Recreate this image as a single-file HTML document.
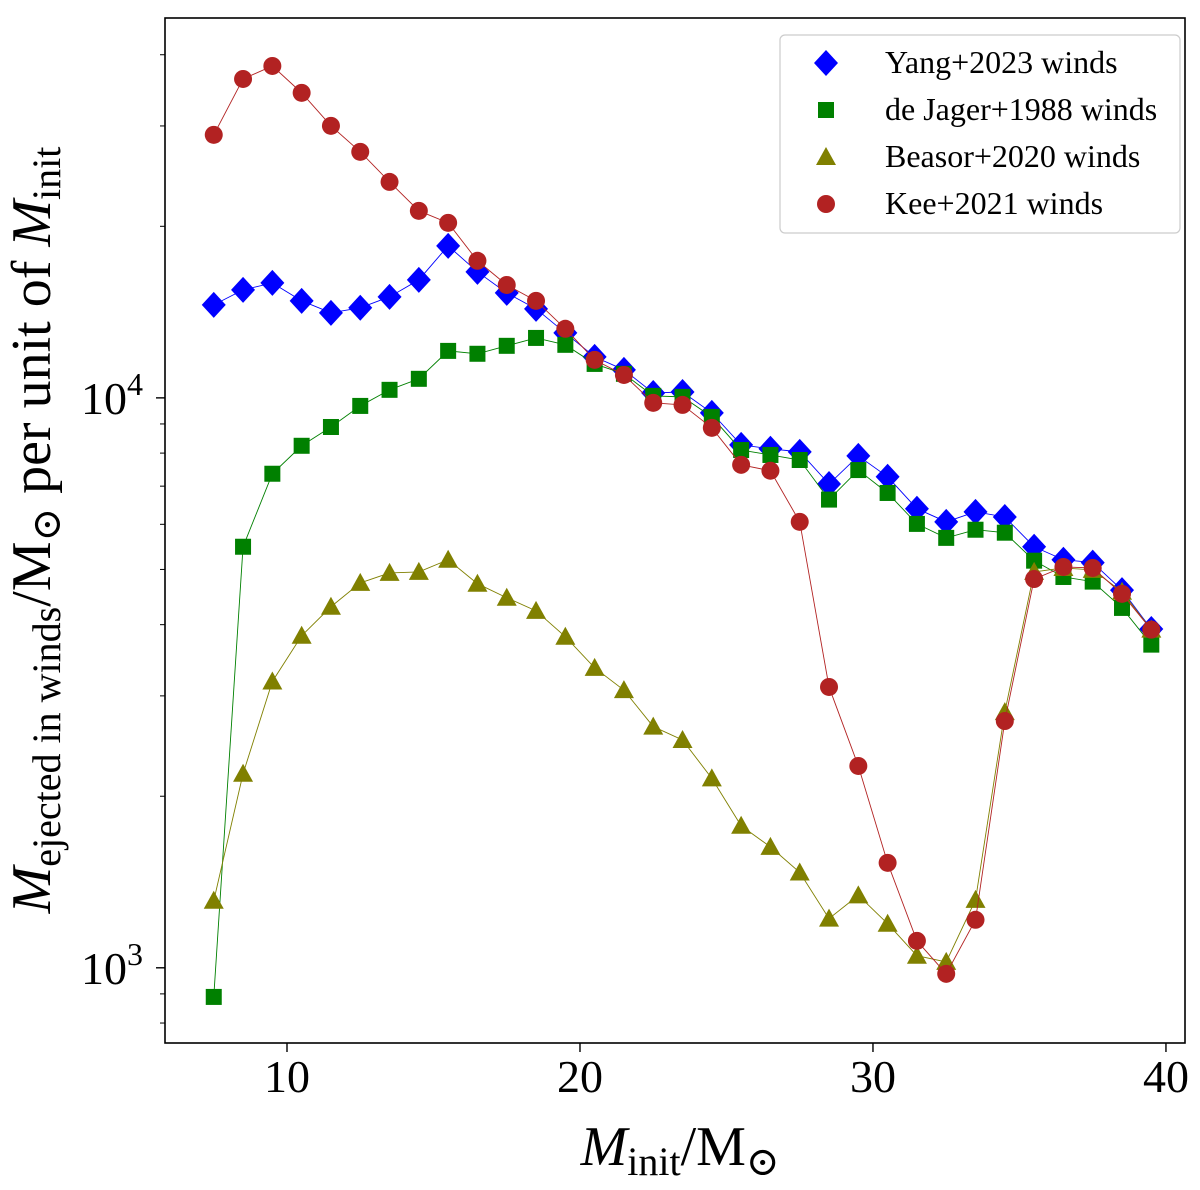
<!DOCTYPE html>
<html><head><meta charset="utf-8">
<style>
html,body{margin:0;padding:0;background:#fff;}
svg{display:block;font-family:"Liberation Serif","DejaVu Serif",serif;}
</style></head>
<body>
<svg id="chart" width="1200" height="1190" viewBox="0 0 1200 1190" xmlns="http://www.w3.org/2000/svg">
<g id="plot"></g>
</svg>
<script>
const masses = [7.5,8.5,9.5,10.5,11.5,12.5,13.5,14.5,15.5,16.5,17.5,18.5,19.5,20.5,21.5,22.5,23.5,24.5,25.5,26.5,27.5,28.5,29.5,30.5,31.5,32.5,33.5,34.5,35.5,36.5,37.5,38.5,39.5];
const yangWinds = [14560,15470,15910,14800,14100,14390,15040,16110,18480,16640,15280,14330,13000,11800,11200,10200,10240,9410,8270,8140,8040,7060,7910,7270,6390,6060,6310,6180,5480,5200,5140,4600,3930];
const deJagerWinds = [889,5480,7360,8240,8890,9680,10330,10800,12090,11950,12340,12740,12390,11470,11020,10080,10040,9260,8100,7940,7780,6630,7470,6810,6010,5680,5870,5800,5180,4850,4760,4280,3690];
const beasorWinds = [1311,2190,3180,3825,4300,4735,4930,4950,5200,4720,4460,4230,3810,3360,3070,2650,2510,2150,1775,1630,1470,1220,1340,1195,1050,1024,1316,2810,4950,5030,4990,4570,3920];
const keeWinds = [28940,36270,38230,34290,30010,27020,23930,21290,20280,17400,15780,14800,13220,11660,10970,9800,9720,8860,7630,7450,6060,3110,2260,1528,1115,976,1214,2710,4810,5050,5030,4530,3920];
const xTicks = [10,20,30,40];
const yMajor = [1000,10000];
const yMajorLabels = ["3","4"];
const yMinor = [800,900,2000,3000,4000,5000,6000,7000,8000,9000,20000,30000,40000];

const L=165,R=1185,T=18,B=1043;
const xmin=5.836,xmax=40.65,lymin=Math.log10(738),lymax=Math.log10(46400);
const X=v=>L+(v-xmin)/(xmax-xmin)*(R-L);
const Y=v=>B-(Math.log10(v)-lymin)/(lymax-lymin)*(B-T);
const NS="http://www.w3.org/2000/svg";
const svg=document.getElementById('chart');
const plot=document.getElementById('plot');
function mk(tag,attrs,parent){const e=document.createElementNS(NS,tag);for(const k in attrs)e.setAttribute(k,attrs[k]);(parent||svg).appendChild(e);return e;}

const frame=mk('rect',{x:L,y:T,width:R-L,height:B-T,fill:'none',stroke:'#000','stroke-width':1.6});



xTicks.forEach(t=>{
  const tk=mk('line',{x1:X(t),x2:X(t),y1:B,y2:B+9,stroke:'#000','stroke-width':1.4});
  
  
  const lb=mk('text',{x:X(t),y:1092,'font-size':46,'text-anchor':'middle'});
  lb.textContent=t;
  
  
});
yMajor.forEach((t,i)=>{
  const tk=mk('line',{x1:L-9,x2:L,y1:Y(t),y2:Y(t),stroke:'#000','stroke-width':1.4});
  
  
  const lb=mk('text',{x:L-22,y:Y(t)+16,'font-size':46,'text-anchor':'end'});
  
  
  lb.textContent='10';
  const sup=mk('tspan',{dy:-19,'font-size':32},lb);
  sup.textContent=yMajorLabels[i];
});
yMinor.forEach(t=>{
  const tk=mk('line',{x1:L-5,x2:L,y1:Y(t),y2:Y(t),stroke:'#000','stroke-width':1});
  
  
});

function marker(kind,cx,cy,color,g){
  if(kind==='d') return mk('polygon',{points:`${cx},${cy-13} ${cx+12},${cy} ${cx},${cy+13} ${cx-12},${cy}`,fill:color},g);
  if(kind==='s') return mk('rect',{x:cx-8,y:cy-8,width:16,height:16,fill:color},g);
  if(kind==='t') return mk('polygon',{points:`${cx},${cy-10} ${cx+10},${cy+8} ${cx-10},${cy+8}`,fill:color},g);
  return mk('circle',{cx:cx,cy:cy,r:9,fill:color},g);
}
const series=[
  {name:'yang',vals:yangWinds,color:'#0000ff',kind:'d',label:'Yang+2023 winds'},
  {name:'de-jager',vals:deJagerWinds,color:'#008000',kind:'s',label:'de Jager+1988 winds'},
  {name:'beasor',vals:beasorWinds,color:'#808000',kind:'t',label:'Beasor+2020 winds'},
  {name:'kee',vals:keeWinds,color:'#b22222',kind:'o',label:'Kee+2021 winds'}
];
series.forEach(s=>{
  const g=mk('g',{},plot);
  
  
  const pl=mk('polyline',{points:masses.map((m,i)=>X(m)+','+Y(s.vals[i])).join(' '),fill:'none',stroke:s.color,'stroke-width':0.9},g);
  
  
  masses.forEach((m,i)=>{
    const p=marker(s.kind,X(m),Y(s.vals[i]),s.color,g);
    
    
  });
});

const lg=mk('g',{});


mk('rect',{x:780,y:35,width:400,height:198,rx:5,fill:'#fff','fill-opacity':0.8,stroke:'#ccc','stroke-width':1.2},lg);
series.forEach((s,i)=>{
  const cy=63+i*47;
  const m=marker(s.kind,826,cy,s.color,lg);
  
  
  const t=mk('text',{x:885,y:cy+10,'font-size':32},lg);
  t.textContent=s.label;
  
  
});

const xt=mk('text',{x:680,y:1165,'font-size':56,'text-anchor':'middle'});


xt.innerHTML='<tspan font-style="italic">M</tspan><tspan font-size="40" dy="10">init</tspan><tspan dy="-10">/M</tspan><tspan font-size="40" dy="10">⊙</tspan>';
const yt=mk('text',{x:0,y:0,'font-size':56,'text-anchor':'middle',transform:'translate(50,530) rotate(-90)'});


yt.innerHTML='<tspan font-style="italic">M</tspan><tspan font-size="40" dy="10">ejected in winds</tspan><tspan dy="-10">/M</tspan><tspan font-size="40" dy="10">⊙</tspan><tspan dy="-10"> per unit of </tspan><tspan font-style="italic">M</tspan><tspan font-size="40" dy="10">init</tspan>';
</script>
</body></html>
